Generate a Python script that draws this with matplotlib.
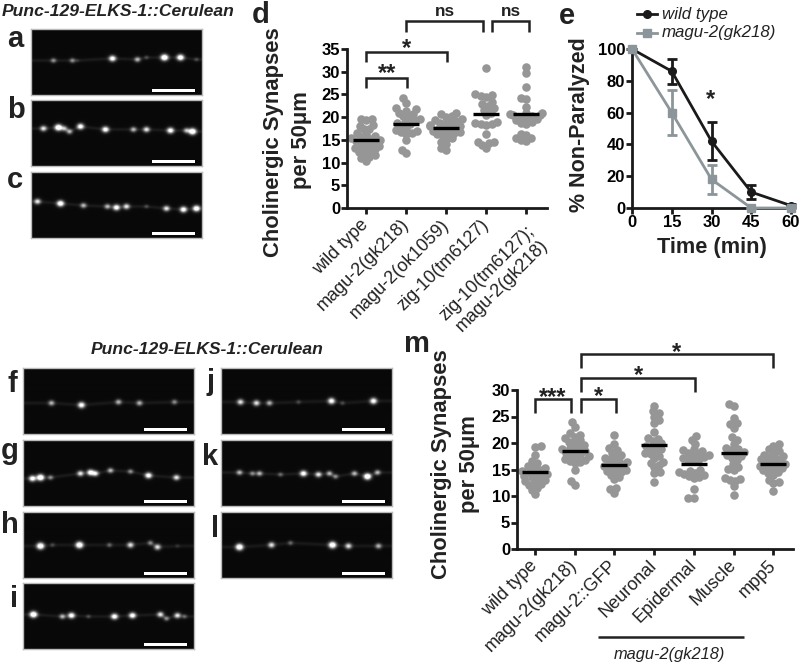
#!/usr/bin/env python3
import numpy as np
import matplotlib
matplotlib.use('Agg')
import matplotlib.pyplot as plt
from matplotlib.transforms import ScaledTranslation

plt.rcParams['font.family'] = ['Liberation Sans', 'DejaVu Sans']

W, H = 800, 664
DOT = '#969696'
INK = '#1a1a1a'
SLATE = '#8c9599'

# panel d
d_labels = ['wild type', 'magu-2(gk218)', 'magu-2(ok1059)', 'zig-10(tm6127)', 'zig-10(tm6127);\nmagu-2(gk218)']
d_means = [15.0, 18.5, 17.7, 20.6, 20.7]
d_wt = [19.6, 19.6, 19.4, 18.2, 18.1, 17.4, 17.3, 16.5, 16.2, 15.8, 15.6, 15.4, 15.2, 15.0, 14.8,
        14.7, 14.4, 14.0, 13.8, 13.6, 13.4, 13.1, 12.9, 12.7, 12.4, 12.0, 11.6, 11.3, 10.9, 10.3]
d_gk218 = [24.2, 23.2, 22.0, 21.7, 21.4, 21.0, 20.6, 20.2, 20.0, 19.6, 19.3, 19.0, 18.7, 18.4, 18.0,
           17.5, 17.2, 17.0, 16.8, 16.5, 16.2, 15.0, 12.8, 12.1]
d_ok1059 = [21.0, 20.6, 20.2, 20.0, 19.6, 19.4, 19.2, 18.9, 18.7, 18.5, 18.3, 18.1, 18.0, 17.8, 17.6,
            17.4, 17.2, 17.0, 16.8, 16.6, 16.4, 16.2, 16.0, 15.5, 15.2, 14.6, 14.0, 13.2, 12.8]
d_tm6127 = [30.9, 25.0, 24.8, 24.6, 24.4, 23.3, 22.8, 22.4, 22.0, 21.6, 21.0, 20.5, 19.0, 18.8, 18.6,
            18.4, 18.2, 16.2, 14.6, 14.5, 14.2, 13.8, 13.1]
d_double = [31.0, 29.7, 26.7, 24.2, 24.0, 22.3, 21.0, 20.9, 20.7, 20.5, 20.4, 20.2, 20.0, 19.8, 19.5,
            19.3, 19.0, 18.8, 18.6, 16.2, 16.0, 15.5, 15.3, 14.9, 14.8]

# panel e
e_time = [0, 15, 30, 45, 60]
e_wt = [100, 86, 42, 10, 1.5]
e_wt_err = [0, 8, 12, 4.5, 1]
e_gk218 = [100, 60, 18, 0, 0]
e_gk218_err = [0, 14, 9, 0, 0]

# panel m
m_labels = ['wild type', 'magu-2(gk218)', 'magu-2::GFP', 'Neuronal', 'Epidermal', 'Muscle', 'mpp5']
m_means = [14.5, 18.5, 15.9, 19.7, 16.0, 18.2, 16.1]
m_wt = [19.5, 19.2, 17.7, 16.6, 16.2, 15.7, 15.4, 15.2, 15.0, 14.8, 14.6, 14.4, 14.2, 14.0, 13.8,
        13.5, 13.3, 13.0, 12.8, 12.5, 12.3, 12.0, 11.6, 11.1, 10.3]
m_gk218 = [24.0, 23.1, 21.8, 21.6, 21.2, 20.9, 20.5, 20.2, 20.0, 19.6, 19.3, 19.0, 18.8, 18.6, 18.4,
           18.2, 18.0, 17.7, 17.5, 17.2, 17.0, 16.8, 16.6, 16.4, 16.2, 15.0, 12.9, 12.1]
m_gfp = [21.5, 19.8, 19.0, 18.6, 18.2, 17.8, 17.4, 17.2, 17.0, 16.6, 16.4, 16.2, 16.0, 15.8, 15.6,
         15.4, 15.2, 15.0, 14.8, 14.6, 14.4, 14.0, 13.6, 13.2, 11.6, 11.3, 10.6]
m_neuronal = [27.0, 26.0, 25.6, 25.0, 24.4, 23.8, 22.0, 21.0, 20.8, 20.4, 20.0, 19.6, 19.4, 19.1, 18.8,
              18.5, 18.2, 18.0, 17.6, 17.2, 16.5, 16.2, 15.8, 15.4, 14.5, 14.3, 12.7]
m_epidermal = [21.3, 20.6, 19.8, 18.8, 18.6, 18.4, 18.2, 18.0, 17.8, 17.6, 17.4, 17.2, 17.0, 16.8, 16.6,
               15.0, 14.8, 14.6, 14.4, 14.2, 14.0, 13.8, 13.6, 13.4, 11.3, 9.7, 9.6]
m_muscle = [27.4, 27.0, 24.8, 23.7, 23.6, 22.8, 21.1, 20.6, 19.8, 19.0, 18.9, 18.6, 18.3, 18.0, 17.8,
            17.5, 17.2, 16.8, 16.0, 15.5, 15.1, 14.9, 13.4, 13.2, 13.0, 12.8, 11.8, 10.2]
m_mpp5 = [19.8, 19.5, 18.8, 18.4, 18.1, 17.8, 17.5, 17.3, 17.1, 16.9, 16.7, 16.5, 16.3, 16.1, 15.9,
          15.7, 15.5, 15.3, 15.1, 14.9, 14.6, 14.3, 14.0, 13.0, 12.6, 12.4, 10.9]

# micrographs: bright spots along the axon (x, y, brightness)
spots_a = [(22, 31, .6), (41, 31, .6), (46, 31, .3), (81, 29, .9), (106, 30, .7), (115, 28, .4), (133, 28, 1), (149, 28, .95), (165, 30, .4)]
spots_b = [(12, 28, .8), (27, 27, 1), (33, 28, .7), (38, 31, .7), (49, 26, .9), (74, 29, .9), (102, 29, .7), (115, 29, .8), (139, 30, .9), (155, 30, .7), (161, 31, 1)]
spots_c = [(6, 29, .8), (29, 31, .95), (52, 33, .7), (76, 34, .7), (85, 35, .9), (95, 34, .8), (115, 34, .4), (135, 36, .8), (152, 37, .9), (165, 36, .95)]
spots_f = [(28, 35, .7), (58, 37, .9), (95, 34, .7), (116, 35, .7), (151, 34, .6)]
spots_g = [(9, 38, .9), (17, 37, 1), (27, 37, .6), (57, 33, .8), (67, 32, .9), (72, 33, .8), (87, 30, .7), (107, 31, .6), (125, 35, .9), (153, 37, .8)]
spots_h = [(17, 34, 1), (29, 33, .4), (56, 33, 1), (86, 33, .5), (107, 33, .8), (127, 31, .6), (134, 35, .8), (154, 34, .3)]
spots_i = [(10, 31, 1), (39, 33, .7), (48, 32, .9), (65, 33, .4), (91, 33, .9), (109, 32, .9), (137, 31, .8), (143, 35, .6), (154, 32, .8), (161, 33, .5)]
spots_j = [(19, 34, .8), (35, 35, .8), (48, 35, .7), (77, 34, .4), (110, 33, .9), (121, 35, .4), (152, 33, .9)]
spots_k = [(18, 32, .7), (31, 33, .6), (38, 33, .7), (59, 34, .5), (82, 33, .9), (97, 34, .8), (108, 33, .7), (114, 36, .6), (133, 33, .7), (146, 36, 1), (156, 32, .7)]
spots_l = [(18, 35, 1), (50, 33, .8), (69, 31, .5), (111, 33, 1), (127, 34, .8), (157, 34, .7)]


def px_axes(fig, left, top, right, bottom):
    return fig.add_axes([left / W, 1 - bottom / H, (right - left) / W, (bottom - top) / H])


def swarm(values, px_per_unit, px_per_cat, min_dist=5.4):
    # greedy dodge so that dots sit as near to the category centre as they can
    placed = []
    out = []
    for v in sorted(values):
        y = v * px_per_unit
        offsets = sorted(np.arange(-16, 16.5, 0.5), key=lambda o: (abs(o), o * (1 if len(placed) % 2 else -1)))
        for o in offsets:
            if all((o - px) ** 2 + (y - py) ** 2 >= min_dist ** 2 for px, py in placed):
                break
        placed.append((o, y))
        out.append((o / px_per_cat, v))
    return np.array(out)


def style_axes(ax):
    for side in ['top', 'right']:
        ax.spines[side].set_visible(False)
    for side in ['left', 'bottom']:
        ax.spines[side].set_linewidth(2)
        ax.spines[side].set_color(INK)
    ax.tick_params(width=2, length=4, color=INK, pad=1)
    ax.patch.set_alpha(0)


def scatter_panel(ax, groups, means, labels, px_per_unit, px_per_cat):
    for i, values in enumerate(groups):
        pts = swarm(values, px_per_unit, px_per_cat)
        ax.scatter(pts[:, 0] + i, pts[:, 1], s=38, color=DOT, linewidths=0, zorder=2, clip_on=False)
        half = 13 / px_per_cat
        ax.plot([i - half, i + half], [means[i], means[i]], color='black', lw=2.4, solid_capstyle='butt', zorder=3)
    ax.set_xticks(range(len(labels)))
    ax.set_xticklabels(labels, rotation=45, ha='right', va='center', rotation_mode='anchor',
                       fontsize=13, multialignment='right', color='#222222')
    ax.tick_params(axis='x', pad=6)
    for t in ax.get_yticklabels():
        t.set_fontweight('bold')
        t.set_fontsize(12)


def micrograph(fig, left, top, spots):
    ax = px_axes(fig, left, top, left + 171, top + 66)
    yy, xx = np.mgrid[0:66, 0:171]
    img = np.full(xx.shape, 0.035)
    sx = np.array([s[0] for s in spots])
    sy = np.array([s[1] for s in spots])
    # faint axon trace running through the spots
    trace = np.interp(np.arange(171), sx, sy)
    img += 0.07 * np.exp(-((yy - trace[xx]) ** 2) / 3.0)
    for x, y, b in spots:
        sigma = 0.9 + 1.3 * b
        img += 1.3 * b ** 2 * np.exp(-((xx - x) ** 2 / 1.4 + (yy - y) ** 2) / (2 * sigma ** 2))
    ax.imshow(np.clip(img, 0, 1), cmap='gray', vmin=0, vmax=1, aspect='auto', interpolation='bilinear')
    ax.add_patch(plt.Rectangle((120, 59), 43, 3, color='white', lw=0))
    ax.set_xticks([])
    ax.set_yticks([])
    for sp in ax.spines.values():
        sp.set_color('#bbbbbb')
        sp.set_linewidth(1)


def main():
    fig = plt.figure(figsize=(W / 100, H / 100), dpi=100)

    for top, spots in [(29, spots_a), (100, spots_b), (172, spots_c)]:
        micrograph(fig, 31, top, spots)
    for top, spots in [(368, spots_f), (440, spots_g), (512, spots_h), (583, spots_i)]:
        micrograph(fig, 23, top, spots)
    for top, spots in [(368, spots_j), (440, spots_k), (512, spots_l)]:
        micrograph(fig, 221, top, spots)

    # panel d
    ax_d = px_axes(fig, 347, 49, 547, 208)
    style_axes(ax_d)
    ax_d.set_xlim(-0.475, 4.525)
    ax_d.set_ylim(0, 35)
    ax_d.set_yticks(range(0, 36, 5))
    scatter_panel(ax_d, [d_wt, d_gk218, d_ok1059, d_tm6127, d_double], d_means, d_labels, 159 / 35, 40)
    # the two-line label hangs further down and to the right
    last = ax_d.get_xticklabels()[-1]
    last.set_transform(last.get_transform() + ScaledTranslation(0.12, -0.14, fig.dpi_scale_trans))

    # panel e
    ax_e = px_axes(fig, 632, 49, 791, 208)
    style_axes(ax_e)
    ax_e.set_xlim(0, 60)
    ax_e.set_ylim(0, 100)
    ax_e.set_xticks(e_time)
    ax_e.set_yticks(range(0, 101, 20))
    ax_e.errorbar(e_time, e_wt, yerr=e_wt_err, color=INK, lw=2, marker='o', ms=5.5, capsize=3.8, capthick=2,
                  elinewidth=2, clip_on=False, zorder=3)
    ax_e.errorbar(e_time, e_gk218, yerr=e_gk218_err, color=SLATE, lw=2, marker='s', ms=5.5, capsize=3.8, capthick=2,
                  elinewidth=2, clip_on=False, zorder=4)
    for t in ax_e.get_xticklabels() + ax_e.get_yticklabels():
        t.set_fontweight('bold')
        t.set_fontsize(12)

    # panel m
    ax_m = px_axes(fig, 517, 390, 793, 549)
    style_axes(ax_m)
    ax_m.set_xlim(-18 / 39.7, 258 / 39.7)
    ax_m.set_ylim(0, 30)
    ax_m.set_yticks(range(0, 31, 5))
    scatter_panel(ax_m, [m_wt, m_gk218, m_gfp, m_neuronal, m_epidermal, m_muscle, m_mpp5], m_means, m_labels,
                  159 / 30, 39.7)

    # everything else goes on a pixel overlay
    over = fig.add_axes([0, 0, 1, 1], zorder=10)
    over.set_xlim(0, W)
    over.set_ylim(H, 0)
    over.axis('off')

    def label(x, y, s, **kw):
        kw.setdefault('ha', 'center')
        kw.setdefault('va', 'center')
        over.text(x, y, s, **kw)

    def bracket(x0, x1, top, bot0, bot1=None):
        bot1 = bot0 if bot1 is None else bot1
        over.plot([x0, x0, x1, x1], [bot0, top, top, bot1], color='#222222', lw=1.8,
                  solid_joinstyle='miter', solid_capstyle='butt')

    def star(x, y, n=1):
        # the asterisk sits high in its line, so anchor on the baseline
        label(x, y + 13.5, '*' * n, fontsize=17, fontweight='bold', va='baseline', color='#222222')

    def ns(x, y):
        label(x, y + 4.5, 'ns', fontsize=12.4, fontweight='bold', va='baseline', color='#222222')

    for x, y, s in [(7, 47, 'a'), (7, 118, 'b'), (7, 188, 'c'), (252, 23, 'd'), (559, 24, 'e'),
                    (7, 392, 'f'), (1, 459, 'g'), (1, 533, 'h'), (10, 607, 'i'),
                    (207, 390, 'j'), (202, 465, 'k'), (211, 537, 'l'), (404, 352, 'm')]:
        label(x, y, s, fontsize=21, fontweight='bold', ha='left', va='baseline', color='#222222')

    title_kw = dict(fontsize=12.6, fontweight='bold', style='italic', color='#222222')
    label(118, 11, 'Punc-129-ELKS-1::Cerulean', **title_kw)
    label(207, 350, 'Punc-129-ELKS-1::Cerulean', **title_kw)

    ylab_kw = dict(fontsize=15.8, fontweight='bold', rotation=90, color='#222222')
    label(273, 142, 'Cholinergic Synapses', **ylab_kw)
    label(302, 140, 'per 50μm', **ylab_kw)
    label(442, 464, 'Cholinergic Synapses', **ylab_kw)
    label(470, 464, 'per 50μm', **ylab_kw)
    label(579, 125, '% Non-Paralyzed', fontsize=15.5, fontweight='bold', rotation=90, color='#222222')
    label(712, 248, 'Time (min)', fontsize=15.7, fontweight='bold', color='#222222')

    # brackets of panel d
    bracket(366, 407, 78, 88)
    star(387, 67, 2)
    bracket(366, 447, 52, 62)
    star(406, 42)
    bracket(406, 483, 21, 32)
    ns(445, 11)
    bracket(492, 529, 21, 32)
    ns(511, 11)

    # brackets of panel m
    bracket(535, 571, 399, 413)
    star(553, 391, 3)
    bracket(581, 616, 399, 413)
    star(598, 390)
    bracket(581, 695, 378, 392)
    star(638, 369)
    bracket(581, 773, 354, 368)
    star(677, 346)
    over.plot([598, 744], [637, 637], color='#222222', lw=1.8, solid_capstyle='butt')
    label(669, 655, 'magu-2(gk218)', fontsize=11.8, style='italic', color='#222222')

    # legend of panel e
    over.plot([637, 657], [14, 14], color=INK, lw=2)
    over.plot([647], [14], color=INK, marker='o', ms=5.5)
    over.plot([637, 657], [33, 33], color=SLATE, lw=2)
    over.plot([647], [33], color=SLATE, marker='s', ms=5.5)
    label(662, 14, 'wild type', fontsize=12.2, style='italic', ha='left', color='#222222')
    label(662, 33, 'magu-2(gk218)', fontsize=12.2, style='italic', ha='left', color='#222222')
    star(711, 93)

    fig.savefig('out.png', dpi=100)


if __name__ == "__main__":
    main()
